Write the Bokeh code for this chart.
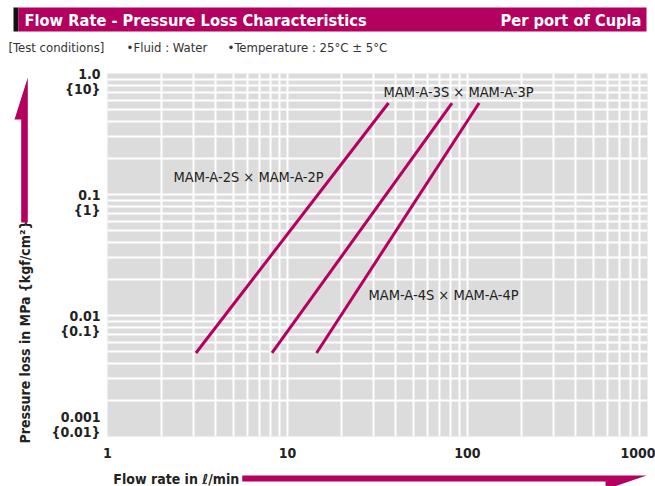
import math
from bokeh.plotting import figure
from bokeh.models import FixedTicker, NumeralTickFormatter, Range1d, LinearScale
from bokeh.layouts import column, row
from bokeh.core.properties import value
from bokeh.embed import file_html
from bokeh.resources import INLINE

# ---- data ----
series_names = ["MAM-A-2S × MAM-A-2P", "MAM-A-3S × MAM-A-3P", "MAM-A-4S × MAM-A-4P"]
flow_2s = [3.1, 36.4]
loss_2s = [0.0049, 0.57]
flow_3s = [8.2, 82.0]
loss_3s = [0.0049, 0.57]
flow_4s = [14.5, 116.0]
loss_4s = [0.0049, 0.57]
x_ticks = [1, 10, 100, 1000]
y_ticks = [1.0, 0.1, 0.01, 0.001]
y_labels_mpa = ["1.0", "0.1", "0.01", "0.001"]
y_labels_kgf = ["{10}", "{1}", "{0.1}", "{0.01}"]

MAG = "#b4005e"
GREY = "#dcdcdc"
TXT = "#222222"
FONT_NAME = "DejaVu Sans Condensed, Roboto"
FONT = value(FONT_NAME)

# page geometry
PW, PH = 655, 486
HEAD_H = 58                 # header strip height
SPLIT_X = 102               # left strip width
FRAME_L, FRAME_T = 107, 73  # frame left / top on the page
FW, FH = 540, 363
MAIN_H = 406                # main figure height (to page y 464)
DEC_Y = FH / 3.0


def bare(fig):
    fig.axis.visible = False
    fig.grid.visible = False
    fig.outline_line_color = None
    fig.background_fill_color = None
    fig.border_fill_color = None
    return fig


# ---- header strip ----
head = bare(figure(width=PW, height=HEAD_H, x_range=Range1d(0, PW), y_range=Range1d(HEAD_H, 0),
                   min_border=0, output_backend="svg", toolbar_location=None))
head.quad(left=[13], right=[18], top=[7], bottom=[31], fill_color="#111111", line_color=None)
head.quad(left=[18], right=[646], top=[7], bottom=[31], fill_color=MAG, line_color=None)
head.text(x=[24], y=[19.5], text=["Flow Rate - Pressure Loss Characteristics"],
          text_font=FONT, text_font_style="bold", text_font_size=value("16.3px"),
          text_color="white", text_baseline="middle", text_align="left")
head.text(x=[641], y=[19.5], text=["Per port of Cupla"],
          text_font=FONT, text_font_style="bold", text_font_size=value("16.3px"),
          text_color="white", text_baseline="middle", text_align="right")
head.text(x=[8, 126, 227], y=[47, 47, 47],
          text=["[Test conditions]", "•Fluid : Water", "•Temperature : 25°C ± 5°C"],
          text_font=FONT, text_font_size=value("13px"), text_color="#333333",
          text_baseline="middle", text_align="left")

# ---- left strip: y tick labels (log scale shared with main), y title + arrow ----
left_h = PH - HEAD_H
y_top = 10 ** ((FRAME_T - HEAD_H) / DEC_Y)
y_bot = 10 ** (-(PH - FRAME_T) / DEC_Y)
left = bare(figure(width=SPLIT_X, height=left_h, x_range=Range1d(0, SPLIT_X),
                   y_axis_type="log", y_range=Range1d(y_bot, y_top),
                   min_border=0, output_backend="svg", toolbar_location=None))
left.extra_y_ranges = {"px": Range1d(PH, HEAD_H)}
left.extra_y_scales = {"px": LinearScale()}

line2 = 10 ** (-15 / DEC_Y)
first_y = [v for v in y_ticks]
first_y[-1] = y_ticks[-1] * 10 ** (20 / DEC_Y)
second_y = [v * line2 for v in first_y]
left.text(x=[100] * 4, y=first_y, text=y_labels_mpa, text_font=FONT, text_font_style="bold",
          text_font_size=value("14px"), text_color=TXT, text_align="right", text_baseline="middle")
left.text(x=[100] * 4, y=second_y, text=y_labels_kgf, text_font=FONT, text_font_style="bold",
          text_font_size=value("14px"), text_color=TXT, text_align="right", text_baseline="middle")
left.text(x=[24], y=[443], text=["Pressure loss in MPa {kgf/cm²}"], angle=math.pi / 2,
          y_range_name="px", text_font=FONT, text_font_style="bold",
          text_font_size=value("14px"), text_color=TXT, text_align="left", text_baseline="middle")
left.patch(x=[20.7, 20.7, 14, 27.3, 27.3], y=[222, 119, 119, 77, 222], y_range_name="px",
           fill_color=MAG, line_color=None)

# ---- main chart ----
main_w = PW - SPLIT_X
p = figure(width=main_w, height=MAIN_H, x_axis_type="log", y_axis_type="log",
           x_range=(1, 1000), y_range=(0.001, 1.0),
           min_border_left=FRAME_L - SPLIT_X, min_border_right=main_w - (FRAME_L - SPLIT_X) - FW,
           min_border_top=FRAME_T - HEAD_H, min_border_bottom=MAIN_H - (FRAME_T - HEAD_H) - FH,
           output_backend="svg", toolbar_location=None)
p.background_fill_color = GREY
p.border_fill_color = None
p.outline_line_color = None

minor_x = [m * 10 ** e for e in range(0, 3) for m in range(2, 10)]
minor_y = [m * 10 ** e for e in range(-3, 0) for m in range(2, 10)]
xt = FixedTicker(ticks=x_ticks, minor_ticks=minor_x)
yt = FixedTicker(ticks=y_ticks, minor_ticks=minor_y)
p.xaxis.ticker = xt
p.yaxis.ticker = yt
p.xgrid.ticker = xt
p.ygrid.ticker = yt
for g in (p.xgrid, p.ygrid):
    g.grid_line_color = "white"
    g.grid_line_width = 2
    g.minor_grid_line_color = "white"
    g.minor_grid_line_width = 2

p.xaxis.formatter = NumeralTickFormatter(format="0")
p.xaxis.axis_line_color = None
p.xaxis.major_tick_line_color = None
p.xaxis.minor_tick_line_color = None
p.xaxis.major_label_standoff = 5
p.xaxis.major_label_text_font = FONT_NAME
p.xaxis.major_label_text_font_style = "bold"
p.xaxis.major_label_text_font_size = "14px"
p.xaxis.major_label_text_color = TXT
p.yaxis.visible = False

for fx, fy in ((flow_2s, loss_2s), (flow_3s, loss_3s), (flow_4s, loss_4s)):
    p.line(fx, fy, line_color=MAG, line_width=3)


def fx_px(px):
    return 10 ** ((px - FRAME_L) / (FW / 3.0))


def fy_px(py):
    return 10 ** (-(py - FRAME_T) / DEC_Y)


p.text(x=[fx_px(173), fx_px(383), fx_px(368)], y=[fy_px(176), fy_px(91), fy_px(294)],
       text=series_names, text_font=FONT, text_font_size=value("14.5px"), text_color=TXT,
       text_baseline="middle", text_align="left")

# ---- bottom strip: x title + arrow ----
bot_h = PH - HEAD_H - MAIN_H
bot = bare(figure(width=main_w, height=bot_h, x_range=Range1d(SPLIT_X, PW),
                  y_range=Range1d(PH, PH - bot_h), min_border=0,
                  output_backend="svg", toolbar_location=None))
bot.text(x=[108], y=[478], text=["Flow rate in ℓ/min"], text_font=FONT, text_font_style="bold",
         text_font_size=value("14px"), text_color=TXT, text_baseline="middle", text_align="left")
bot.patch(x=[240, 654, 612, 612, 240], y=[475, 475, 489, 481, 481],
          fill_color=MAG, line_color=None)

layout = column(head, row(left, column(p, bot, spacing=0), spacing=0), spacing=0)
open("out.html", "w").write(file_html(layout, INLINE))
